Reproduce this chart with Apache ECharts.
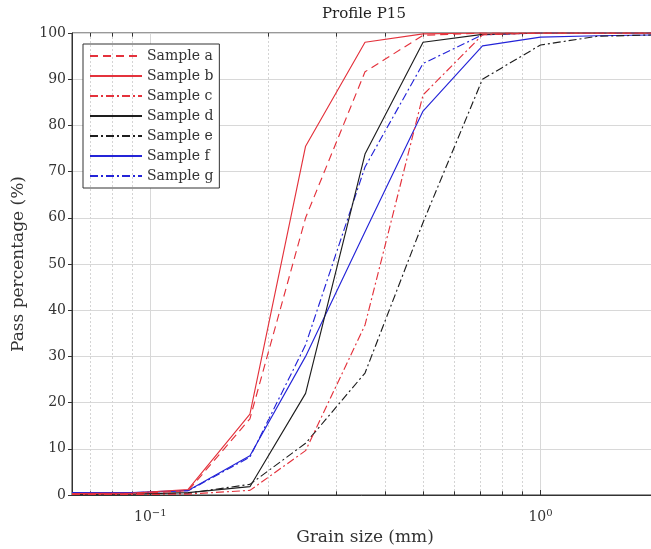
<!DOCTYPE html>
<html>
<head>
<meta charset="utf-8">
<script src="https://cdn.jsdelivr.net/npm/echarts@6/dist/echarts.min.js"></script>
<style>html,body{margin:0;padding:0;background:#fff}#c{width:651px;height:549px}</style>
</head>
<body>
<div id="c"></div>
<script>
// Grain sizes (mm)
const sizes = [0.063, 0.09, 0.125, 0.18, 0.25, 0.355, 0.5, 0.71, 1, 1.4, 2];
const sampleA = [0.2, 0.3, 0.9, 16.5, 60, 91.6, 99.5, 100, 100, 100, 100];
const sampleB = [0.3, 0.4, 1.2, 17.5, 75.5, 98, 99.8, 100, 100, 100, 100];
const sampleC = [0.1, 0.1, 0.2, 1.0, 9.6, 36.8, 86.6, 99.6, 100, 100, 100];
const sampleD = [0.1, 0.2, 0.5, 1.8, 22, 73.8, 98, 99.7, 100, 100, 100];
const sampleE = [0.1, 0.2, 0.4, 2.3, 11.2, 26.4, 59, 90, 97.4, 99.3, 99.6];
const sampleF = [0.5, 0.5, 1.0, 8.5, 30, 57, 83.1, 97.2, 99.1, 99.4, 99.6];
const sampleG = [0.4, 0.5, 0.9, 8.2, 32.5, 71, 93.4, 99.6, 100, 100, 100];
const seriesNames = ['Sample a','Sample b','Sample c','Sample d','Sample e','Sample f','Sample g'];
const minorGrid = [0.07,0.08,0.09,0.2,0.3,0.4,0.5,0.6,0.7,0.8,0.9];
const yTicks = [0,10,20,30,40,50,60,70,80,90,100];

const RED = '#e4323c', BLUE = '#2424d8', BLACK = '#1e1e1e';
const DASH = [8,5], DASHDOT = [8,3,2,3];
const FONT = 'DejaVu Serif';

const styles = [
  {color: RED, type: DASH}, {color: RED, type: 'solid'}, {color: RED, type: DASHDOT},
  {color: BLACK, type: 'solid'}, {color: BLACK, type: DASHDOT},
  {color: BLUE, type: 'solid'}, {color: BLUE, type: DASHDOT}
];
const values = [sampleA, sampleB, sampleC, sampleD, sampleE, sampleF, sampleG];

const series = values.map((v, i) => ({
  name: seriesNames[i], type: 'line', symbol: 'none', z: 10 - i,
  color: styles[i].color,
  lineStyle: {color: styles[i].color, width: 1.15, type: styles[i].type},
  data: sizes.map((s, k) => [s, v[k]])
}));

const minorLines = [];
minorGrid.forEach(x => {
  minorLines.push({xAxis: x, lineStyle: {color: '#d4d4d4', type: [2,2], width: 1}});
  minorLines.push([{coord: [x, 0], lineStyle: {color: '#333', type: 'solid', width: 1}}, {coord: [x, 0.8]}]);
  minorLines.push([{coord: [x, 99.2], lineStyle: {color: '#333', type: 'solid', width: 1}}, {coord: [x, 100]}]);
});
series.unshift({
  name: '_grid', type: 'line', data: [], silent: true, z: 1,
  markLine: {silent: true, symbol: 'none', label: {show: false}, animation: false, data: minorLines}
});

const supMap = {'-': '−', '0': '0', '1': '1'};
const chart = echarts.init(document.getElementById('c'), null, {renderer: 'canvas'});
chart.setOption({
  animation: false,
  backgroundColor: '#fff',
  title: {text: 'Profile P15', left: 317, top: 2,
    textStyle: {fontFamily: FONT, fontSize: 15, fontWeight: 'normal', color: '#222'}},
  grid: {left: 72, top: 33, right: -7, bottom: 54, containLabel: false, outerBoundsMode: 'none',
    show: true, borderColor: '#333', borderWidth: 1, backgroundColor: 'transparent'},
  legend: {
    data: seriesNames, orient: 'vertical', left: 83, top: 44,
    itemWidth: 52, itemHeight: 14, itemGap: 6, padding: [5, 6, 5, 6],
    borderColor: '#333', borderWidth: 1, backgroundColor: '#fff', borderRadius: 0,
    itemStyle: {color: 'rgba(0,0,0,0)', borderColor: 'rgba(0,0,0,0)', borderWidth: 0, opacity: 0},
    textStyle: {fontFamily: FONT, fontSize: 14, color: '#333'}
  },
  xAxis: {
    type: 'log', logBase: 10, min: 0.063, max: 2,
    name: 'Grain size (mm)', nameLocation: 'middle', nameGap: 34,
    nameTextStyle: {fontFamily: FONT, fontSize: 17, color: '#333'},
    axisLine: {show: true, lineStyle: {color: '#333', width: 1}},
    axisTick: {show: true, inside: true, length: 5, lineStyle: {color: '#333'}},
    axisLabel: {
      margin: 13, fontFamily: FONT, fontSize: 14, color: '#333',
      formatter: v => {
        const l = Math.log10(v);
        if (Math.abs(l - Math.round(l)) > 1e-6) return '';
        const e = String(Math.round(l));
        return '{b|10}{s|' + e.split('').map(ch => supMap[ch] || ch).join('') + '}';
      },
      rich: {b: {fontFamily: FONT, fontSize: 14, color: '#333'},
             s: {fontFamily: FONT, fontSize: 10, color: '#333', padding: [0, 0, 9, 0]}}
    },
    splitLine: {show: true, lineStyle: {color: '#d8d8d8', width: 1}},
    minorTick: {show: false}
  },
  yAxis: {
    type: 'value', min: 0, max: 100, interval: 10,
    name: 'Pass percentage (%)', nameLocation: 'middle', nameGap: 45,
    nameTextStyle: {fontFamily: FONT, fontSize: 17, color: '#333'},
    axisLine: {show: true, lineStyle: {color: '#333', width: 1}},
    axisTick: {show: true, inside: false, length: 4, lineStyle: {color: '#333'}},
    axisLabel: {margin: 6, fontFamily: FONT, fontSize: 14, color: '#333',
      formatter: v => yTicks.includes(v) ? String(v) : ''},
    splitLine: {show: true, lineStyle: {color: '#d8d8d8', width: 1}}
  },
  series: series
});
</script>
</body>
</html>
